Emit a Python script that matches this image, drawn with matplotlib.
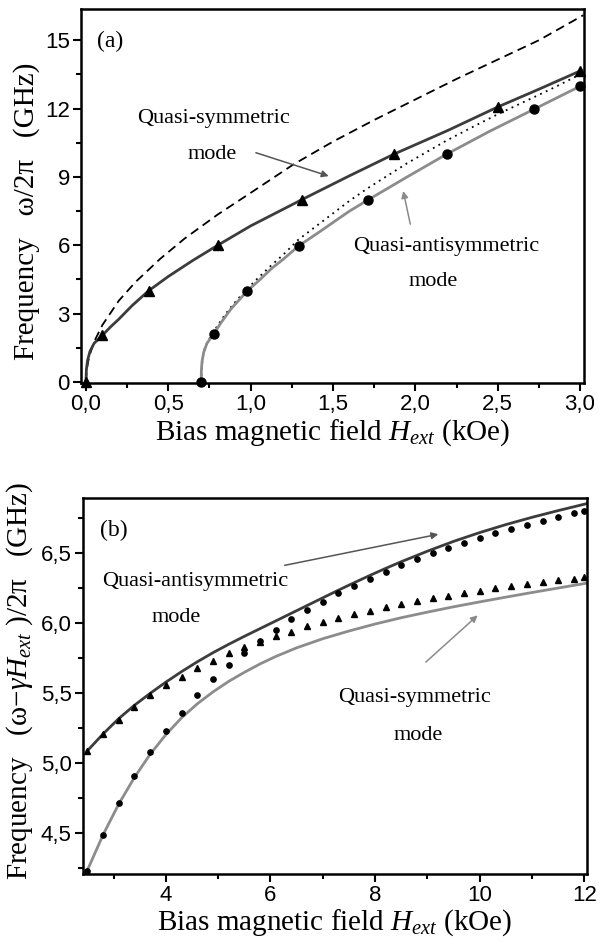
import matplotlib
matplotlib.use("Agg")
import matplotlib.pyplot as plt
from matplotlib.ticker import MultipleLocator, FuncFormatter

plt.rcParams["mathtext.fontset"] = "custom"
plt.rcParams["mathtext.rm"] = "Liberation Serif"
plt.rcParams["mathtext.it"] = "Liberation Serif:italic"

# ---- panel (a) data ----
sym_pts_x = [0.0, 0.10, 0.38, 0.80, 1.31, 1.87, 2.50, 3.00]
sym_pts_y = [0.0, 2.05, 4.0, 6.0, 8.0, 10.0, 12.07, 13.65]
sym_line_x = [0.0, 0.003, 0.01, 0.025, 0.05, 0.1, 0.15, 0.2, 0.28, 0.38, 0.5, 0.65, 0.8,
              1.0, 1.31, 1.6, 1.87, 2.2, 2.5, 2.75, 3.0]
sym_line_y = [0.0, 0.55, 0.95, 1.35, 1.7, 2.05, 2.42, 2.76, 3.35, 4.0, 4.63, 5.34, 6.0,
              6.85, 8.0, 9.05, 10.0, 11.05, 12.07, 12.85, 13.65]

anti_pts_x = [0.70, 0.775, 0.98, 1.293, 1.71, 2.19, 2.72, 3.00]
anti_pts_y = [0.0, 2.1, 4.0, 5.98, 7.98, 10.0, 11.97, 12.98]
anti_line_x = [0.70, 0.701, 0.705, 0.715, 0.735, 0.775, 0.82, 0.88, 0.98, 1.05, 1.13, 1.2,
               1.293, 1.4, 1.5, 1.6, 1.71, 1.95, 2.19, 2.45, 2.72, 3.0]
anti_line_y = [0.0, 0.5, 0.9, 1.3, 1.7, 2.1, 2.6, 3.2, 4.0, 4.45, 5.0, 5.4,
               5.98, 6.5, 7.0, 7.5, 7.98, 9.0, 10.0, 11.0, 11.97, 12.98]

dash_x = [0.0, 0.005, 0.02, 0.05, 0.1, 0.2, 0.3, 0.45, 0.6, 0.8, 1.0, 1.26, 1.5, 1.75,
          2.0, 2.25, 2.5, 2.75, 3.02]
dash_y = [0.0, 0.56, 1.12, 1.77, 2.5, 3.57, 4.38, 5.4, 6.3, 7.35, 8.3, 9.55, 10.55, 11.5,
          12.4, 13.3, 14.15, 15.0, 16.1]

dot_x = [0.70, 0.702, 0.708, 0.72, 0.745, 0.775, 0.82, 0.87, 0.93, 0.98, 1.05, 1.13, 1.2,
         1.29, 1.4, 1.5, 1.6, 1.71, 1.83, 1.95, 2.07, 2.19, 2.35, 2.5, 2.72, 2.85, 3.0]
dot_y = [0.0, 0.5, 1.0, 1.45, 1.85, 2.2, 2.7, 3.2, 3.7, 4.1, 4.6, 5.15, 5.6,
         6.25, 6.85, 7.4, 7.95, 8.5, 9.05, 9.6, 10.1, 10.6, 11.2, 11.75, 12.5, 12.95, 13.5]

# ---- panel (b) data ----
b_x = [2.5, 2.8, 3.1, 3.4, 3.7, 4.0, 4.3, 4.6, 4.9, 5.2, 5.5, 5.8, 6.1, 6.4, 6.7, 7.0,
       7.3, 7.6, 7.9, 8.2, 8.5, 8.8, 9.1, 9.4, 9.7, 10.0, 10.3, 10.6, 10.9, 11.2, 11.5, 11.8, 12.0]
b_tri_y = [5.09, 5.21, 5.31, 5.40, 5.49, 5.56, 5.62, 5.68, 5.73, 5.79, 5.83, 5.87, 5.91, 5.94, 5.98, 6.01,
           6.04, 6.065, 6.09, 6.115, 6.14, 6.16, 6.18, 6.195, 6.215, 6.23, 6.25, 6.265, 6.28, 6.295, 6.31, 6.32, 6.333]
b_circ_y = [4.23, 4.49, 4.715, 4.91, 5.08, 5.23, 5.36, 5.49, 5.60, 5.70, 5.79, 5.875, 5.95, 6.03, 6.095, 6.155,
            6.215, 6.266, 6.32, 6.37, 6.416, 6.457, 6.50, 6.54, 6.576, 6.61, 6.643, 6.674, 6.70, 6.73, 6.76, 6.786, 6.805]

b_dark_x = [2.5, 2.8, 3.1, 3.4, 3.7, 4.0, 4.3, 4.6, 4.9, 5.2, 5.5, 5.8, 6.1, 6.4, 6.7, 7.0,
            7.3, 7.6, 7.9, 8.2, 8.5, 9.0, 9.5, 10.0, 10.5, 11.0, 11.5, 12.05]
b_dark_y = [5.09, 5.21, 5.32, 5.415, 5.50, 5.58, 5.655, 5.725, 5.79, 5.85, 5.907, 5.962, 6.017, 6.072, 6.127, 6.182,
            6.237, 6.29, 6.342, 6.392, 6.44, 6.515, 6.585, 6.648, 6.705, 6.757, 6.805, 6.855]

b_gray_x = [2.48, 2.8, 3.1, 3.4, 3.7, 4.0, 4.3, 4.6, 4.9, 5.2, 5.5, 5.8, 6.1, 6.5, 7.0, 7.5,
            8.0, 8.5, 9.0, 9.5, 10.0, 10.5, 11.0, 11.5, 12.05]
b_gray_y = [4.22, 4.49, 4.71, 4.90, 5.065, 5.205, 5.325, 5.425, 5.51, 5.585, 5.65, 5.71, 5.763, 5.825, 5.89, 5.945,
            5.995, 6.04, 6.08, 6.118, 6.153, 6.187, 6.22, 6.252, 6.287]

dark = "#3c3c3c"
gray = "#8c8c8c"
serif = "Liberation Serif"
sans = "Liberation Sans"

fig = plt.figure(figsize=(6.07, 9.41), dpi=100)
ax1 = fig.add_axes([0.1334, 0.593, 0.8287, 0.3974])
ax2 = fig.add_axes([0.1362, 0.0712, 0.8308, 0.3996])


def comma(v, fmt):
    return (fmt % v).replace(".", ",")


for ax in (ax1, ax2):
    for s in ax.spines.values():
        s.set_linewidth(1.8)
    ax.tick_params(which="major", direction="out", length=6, width=1.5, labelsize=16, pad=2)
    ax.tick_params(which="minor", direction="out", length=3.5, width=1.5)
    for lab in ax.get_xticklabels() + ax.get_yticklabels():
        lab.set_family(sans)

# panel (a)
ax1.plot(dash_x, dash_y, color="black", lw=1.3, ls=(0, (5, 3)))
ax1.plot(dot_x, dot_y, color="black", lw=1.3, ls=(0, (1, 2.5)))
ax1.plot(sym_line_x, sym_line_y, color=dark, lw=2.0)
ax1.plot(anti_line_x, anti_line_y, color=gray, lw=2.0)
ax1.plot(sym_pts_x, sym_pts_y, "^", color="black", ms=7, clip_on=False)
ax1.plot(anti_pts_x, anti_pts_y, "o", color="black", ms=6.5, clip_on=False)
ax1.set_xlim(-0.030, 3.024)
ax1.set_ylim(-0.044, 16.37)
ax1.xaxis.set_major_locator(MultipleLocator(0.5))
ax1.xaxis.set_minor_locator(MultipleLocator(0.25))
ax1.yaxis.set_major_locator(MultipleLocator(3))
ax1.yaxis.set_minor_locator(MultipleLocator(1.5))
ax1.xaxis.set_major_formatter(FuncFormatter(lambda v, p: comma(v, "%.1f")))
ax1.yaxis.set_major_formatter(FuncFormatter(lambda v, p: "%d" % round(v)))
ax1.set_xlabel(r"Bias magnetic field $H_{ext}$ (kOe)", family=serif, fontsize=21)
ax1.set_ylabel("Frequency   ω/2π   (GHz)", family=serif, fontsize=21)
ax1.xaxis.set_label_coords(0.5, -0.093)
ax1.yaxis.set_label_coords(-0.082, 0.46)
ax1.text(0.146, 14.96, "(a)", family=serif, fontsize=17, ha="center", va="center")
ax1.text(0.777, 11.58, "Quasi-symmetric", family=serif, fontsize=16, ha="center", va="center")
ax1.text(0.768, 9.99, "mode", family=serif, fontsize=16, ha="center", va="center")
ax1.text(2.185, 5.96, "Quasi-antisymmetric", family=serif, fontsize=16, ha="center", va="center")
ax1.text(2.11, 4.40, "mode", family=serif, fontsize=16, ha="center", va="center")
ax1.annotate("", xy=(1.49, 9.0), xytext=(1.016, 10.1),
             arrowprops=dict(arrowstyle="-|>", color="#555555", lw=1.1, mutation_scale=10))
ax1.annotate("", xy=(1.923, 8.5), xytext=(1.973, 6.81),
             arrowprops=dict(arrowstyle="-|>", color="#8a8a8a", lw=1.1, mutation_scale=10))

# panel (b)
ax2.plot(b_dark_x, b_dark_y, color=dark, lw=2.0)
ax2.plot(b_gray_x, b_gray_y, color=gray, lw=2.0)
ax2.plot(b_x, b_tri_y, "^", color="black", ms=4, clip_on=False)
ax2.plot(b_x, b_circ_y, "o", color="black", ms=3.8, clip_on=False)
ax2.set_xlim(2.41, 12.05)
ax2.set_ylim(4.21, 6.895)
ax2.xaxis.set_major_locator(MultipleLocator(2))
ax2.xaxis.set_minor_locator(MultipleLocator(1))
ax2.yaxis.set_major_locator(MultipleLocator(0.5))
ax2.yaxis.set_minor_locator(MultipleLocator(0.25))
ax2.xaxis.set_major_formatter(FuncFormatter(lambda v, p: "%d" % round(v)))
ax2.yaxis.set_major_formatter(FuncFormatter(lambda v, p: comma(v, "%.1f")))
ax2.set_xlabel(r"Bias magnetic field $H_{ext}$ (kOe)", family=serif, fontsize=21)
ax2.set_ylabel(r"Frequency   (ω$-\gamma H_{ext}$ )/2π   (GHz)", family=serif, fontsize=21)
ax2.xaxis.set_label_coords(0.5, -0.088)
ax2.yaxis.set_label_coords(-0.095, 0.513)
ax2.text(3.0, 6.66, "(b)", family=serif, fontsize=17, ha="center", va="center")
ax2.text(4.57, 6.30, "Quasi-antisymmetric", family=serif, fontsize=16, ha="center", va="center")
ax2.text(4.2, 6.04, "mode", family=serif, fontsize=16, ha="center", va="center")
ax2.text(8.76, 5.47, "Quasi-symmetric", family=serif, fontsize=16, ha="center", va="center")
ax2.text(8.82, 5.20, "mode", family=serif, fontsize=16, ha="center", va="center")
ax2.annotate("", xy=(9.26, 6.64), xytext=(6.22, 6.41),
             arrowprops=dict(arrowstyle="-|>", color="#555555", lw=1.1, mutation_scale=10))
ax2.annotate("", xy=(10.0, 6.07), xytext=(8.93, 5.71),
             arrowprops=dict(arrowstyle="-|>", color="#8a8a8a", lw=1.1, mutation_scale=10))

fig.savefig("out.png", dpi=100)
